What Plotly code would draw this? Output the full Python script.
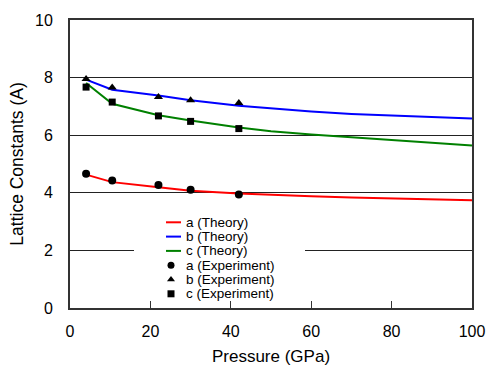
import plotly.graph_objects as go

# Theory curves
p_theory = [4, 10.5, 22, 30, 42, 50, 60, 70, 80, 90, 100]
a_theory = [4.63, 4.37, 4.19, 4.07, 3.98, 3.93, 3.88, 3.84, 3.80, 3.77, 3.74]
b_theory = [7.93, 7.58, 7.38, 7.21, 7.02, 6.92, 6.82, 6.74, 6.68, 6.63, 6.58]
c_theory = [7.81, 7.09, 6.69, 6.51, 6.27, 6.14, 6.02, 5.92, 5.82, 5.73, 5.64]

# Experimental points
p_exp = [4, 10.5, 22, 30, 42]
a_exp = [4.66, 4.43, 4.27, 4.11, 3.94]
b_exp = [7.95, 7.66, 7.33, 7.21, 7.12]
c_exp = [7.67, 7.15, 6.67, 6.48, 6.23]

legend_labels = ["a (Theory)", "b (Theory)", "c (Theory)",
                 "a (Experiment)", "b (Experiment)", "c (Experiment)"]
line_colors = ["#ff0000", "#0000ff", "#008000"]
exp_symbols = ["circle", "triangle-up", "square"]

font = "Liberation Sans"
W, H = 488, 366
ML, MR, MT, MB = 70, 16, 20, 58
XR, YR = (0, 100), (0, 10)


def px_to_x(px):
    return XR[0] + (px - ML) / (W - ML - MR) * (XR[1] - XR[0])


def py_to_y(py):
    return YR[0] + (H - MB - py) / (H - MT - MB) * (YR[1] - YR[0])


fig = go.Figure()
for vals, name, col in zip([a_theory, b_theory, c_theory], legend_labels[:3], line_colors):
    fig.add_trace(go.Scatter(x=p_theory, y=vals, mode="lines", name=name,
                             line=dict(color=col, width=2), showlegend=False))
for vals, name, sym in zip([a_exp, b_exp, c_exp], legend_labels[3:], exp_symbols):
    fig.add_trace(go.Scatter(x=p_exp, y=vals, mode="markers", name=name,
                             marker=dict(symbol=sym, size=8 if sym != "square" else 7,
                                         color="black"),
                             showlegend=False))

# Custom legend, positioned in pixels and converted to axis units
row_py = [222.3, 236.6, 250.9, 265.2, 279.5, 293.8]
for i in range(3):
    fig.add_trace(go.Scatter(x=[px_to_x(166), px_to_x(181)], y=[py_to_y(row_py[i])] * 2,
                             mode="lines", line=dict(color=line_colors[i], width=2),
                             showlegend=False, hoverinfo="skip"))
for i in range(3):
    fig.add_trace(go.Scatter(x=[px_to_x(171)], y=[py_to_y(row_py[3 + i])],
                             mode="markers",
                             marker=dict(symbol=exp_symbols[i], size=7, color="black"),
                             showlegend=False, hoverinfo="skip"))
for i, lab in enumerate(legend_labels):
    fig.add_annotation(x=px_to_x(184), y=py_to_y(row_py[i]), xref="x", yref="y",
                       text=lab, showarrow=False, xanchor="left", yanchor="middle",
                       font=dict(family=font, size=13.5, color="black"))
fig.add_shape(type="rect", xref="x", yref="y",
              x0=px_to_x(134), x1=px_to_x(305), y0=py_to_y(301), y1=py_to_y(213),
              fillcolor="white", line=dict(width=0), layer="between")

fig.update_layout(
    width=W, height=H,
    margin=dict(l=ML, r=MR, t=MT, b=MB),
    paper_bgcolor="white", plot_bgcolor="white",
    font=dict(family=font, size=16, color="black"),
    showlegend=False,
    xaxis=dict(range=list(XR), tickvals=[0, 20, 40, 60, 80, 100],
               showgrid=False, zeroline=False, automargin=False,
               showline=True, linecolor="#333333", linewidth=2, mirror=True,
               ticks="inside", ticklen=7, tickcolor="#333333",
               ticklabelstandoff=8,
               title=dict(text="Pressure (GPa)", standoff=12,
                          font=dict(size=17))),
    yaxis=dict(range=list(YR), tickvals=[0, 2, 4, 6, 8, 10],
               showgrid=True, gridcolor="#222222", gridwidth=1, zeroline=False,
               automargin=False,
               showline=True, linecolor="#333333", linewidth=2, mirror=True,
               ticks="", ticklabelstandoff=12,
               title=dict(text="Lattice Constants (A)", standoff=7,
                          font=dict(size=17.5))),
)

fig.write_html("out.html")
